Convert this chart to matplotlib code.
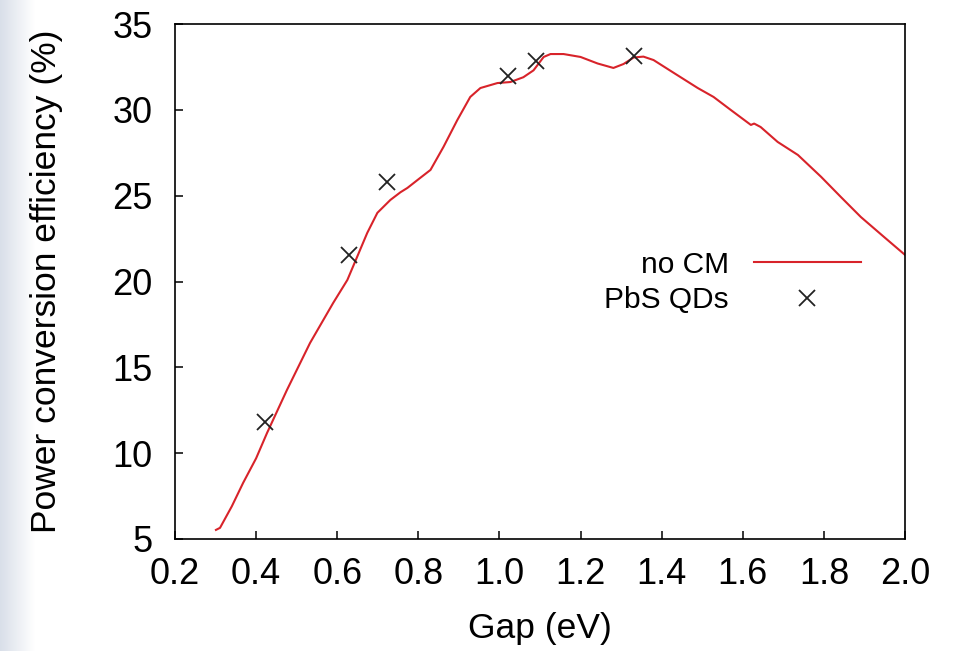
import numpy as np
import matplotlib
matplotlib.use("Agg")
import matplotlib.pyplot as plt

plt.rcParams["font.family"] = ["Liberation Sans", "DejaVu Sans"]

# calculated efficiency curve (no carrier multiplication)
gap_curve = [0.301, 0.311, 0.34, 0.368, 0.40, 0.427, 0.476, 0.533, 0.59, 0.625,
             0.649, 0.674, 0.699, 0.731, 0.756, 0.773, 0.80, 0.83, 0.862, 0.896,
             0.928, 0.953, 0.995, 1.027, 1.059, 1.084, 1.109, 1.126, 1.158, 1.20,
             1.242, 1.281, 1.306, 1.331, 1.355, 1.38, 1.43, 1.489, 1.528, 1.57,
             1.62, 1.628, 1.644, 1.686, 1.736, 1.793, 1.842, 1.891, 1.948, 2.0]
eff_curve = [5.53, 5.65, 6.9, 8.27, 9.7, 11.18, 13.68, 16.42, 18.75, 20.09,
             21.43, 22.83, 24.0, 24.75, 25.2, 25.45, 25.95, 26.5, 27.84, 29.4,
             30.75, 31.27, 31.56, 31.62, 31.9, 32.3, 33.08, 33.25, 33.25, 33.08,
             32.7, 32.44, 32.67, 33.05, 33.1, 32.9, 32.15, 31.27, 30.75, 30.0,
             29.12, 29.2, 29.0, 28.13, 27.37, 26.1, 24.92, 23.76, 22.6, 21.55]

# PbS quantum dot points
gap_qd = [0.422, 0.63, 0.722, 1.021, 1.09, 1.332]
eff_qd = [11.82, 21.55, 25.8, 31.95, 32.85, 33.15]

xticks = [0.2, 0.4, 0.6, 0.8, 1.0, 1.2, 1.4, 1.6, 1.8, 2.0]
yticks = [5, 10, 15, 20, 25, 30, 35]

fig = plt.figure(figsize=(9.6, 6.51), dpi=100)

# faint slide background on the left edge
bg = fig.add_axes([0, 0, 35 / 960, 1])
grad = np.linspace(0, 1, 64)[None, :]
bg.imshow(grad, aspect="auto", cmap=matplotlib.colors.LinearSegmentedColormap.from_list(
    "bg", ["#d9dfe9", "#ffffff"]), extent=[0, 1, 0, 1])
bg.axis("off")

ax = fig.add_axes([175 / 960, 1 - 539 / 651, 730 / 960, 515 / 651])
ax.plot(gap_curve, eff_curve, color="#d8232a", lw=1.5, label="no CM")
ax.plot(gap_qd, eff_qd, ls="none", marker="x", ms=12, mew=1.3, color="#222222",
        label="PbS QDs")

ax.set_xlim(0.2, 2.0)
ax.set_ylim(5, 35)
ax.set_xticks(xticks)
ax.set_xticklabels([f"{t:.1f}" for t in xticks])
ax.set_yticks(yticks)
ax.tick_params(direction="in", length=6, width=1.1, labelsize=26, colors="black")
ax.tick_params(axis="x", pad=13)
ax.tick_params(axis="y", pad=16)
for s in ax.spines.values():
    s.set_linewidth(1.2)

ax.set_xlabel("Gap (eV)", fontsize=25.5)
ax.set_ylabel("Power conversion efficiency (%)", fontsize=25.5)
ax.xaxis.set_label_coords(0.5, -0.142)
ax.yaxis.set_label_coords(-0.154, 0.5)

ax.legend(loc="upper right", bbox_to_anchor=(0.96, 0.589), frameon=False,
          markerfirst=False, fontsize=21.5, handlelength=3.58, handletextpad=0.84,
          borderpad=0, labelspacing=0.25)

fig.savefig("out.png", dpi=100)
